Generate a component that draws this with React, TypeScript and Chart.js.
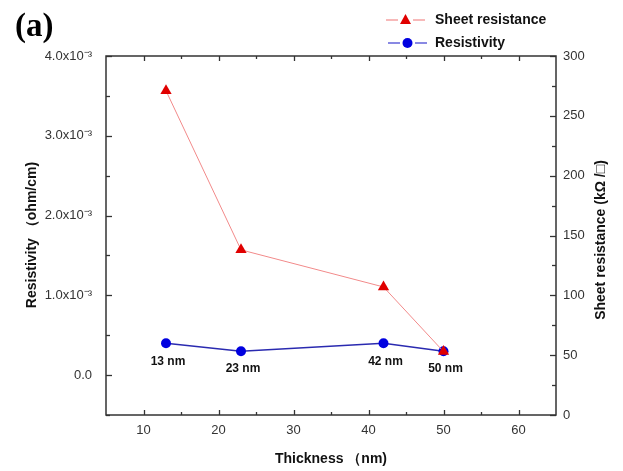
import React, { useEffect, useRef } from "react";
import { Chart, registerables } from "chart.js";

Chart.register(...registerables);

const thickness = [13, 23, 42, 50];
const sheetResistance = [271, 138, 107, 53];
const resistivity = [0.4e-3, 0.3e-3, 0.4e-3, 0.3e-3];
const pointLabels = ["13 nm", "23 nm", "42 nm", "50 nm"];
const xTicks = [10, 20, 30, 40, 50, 60];
const leftTicks = [0, 1e-3, 2e-3, 3e-3, 4e-3];
const rightTicks = [0, 50, 100, 150, 200, 250, 300];

const SANS = "'Liberation Sans', Arial, sans-serif";

const decorPlugin = {
  id: "decor",
  afterDatasetsDraw(chart: any) {
    const { ctx, chartArea: a, scales } = chart;
    const x = scales.x, yl = scales.y, yr = scales.y1;
    ctx.save();
    ctx.strokeStyle = "#333";
    ctx.lineWidth = 1.5;
    ctx.strokeRect(a.left, a.top, a.right - a.left, a.bottom - a.top);
    ctx.lineWidth = 1.3;
    const line = (x1: number, y1: number, x2: number, y2: number) => {
      ctx.beginPath();
      ctx.moveTo(x1, y1);
      ctx.lineTo(x2, y2);
      ctx.stroke();
    };
    for (let v = 10; v <= 60; v += 5) {
      const px = Math.round(x.getPixelForValue(v)) + 0.5;
      const len = v % 10 === 0 ? 5 : 3;
      line(px, a.bottom, px, a.bottom - len);
      line(px, a.top, px, a.top + len);
    }
    for (let v = -0.5e-3; v <= 4e-3 + 1e-9; v += 0.5e-3) {
      const py = Math.round(yl.getPixelForValue(v)) + 0.5;
      const major = Math.abs(Math.round(v * 1000) - v * 1000) < 1e-6;
      line(a.left, py, a.left + (major ? 6 : 4), py);
    }
    for (let v = 0; v <= 300; v += 25) {
      const py = Math.round(yr.getPixelForValue(v)) + 0.5;
      const len = v % 50 === 0 ? 6 : 4;
      line(a.right, py, a.right - len, py);
    }
    const meta = chart.getDatasetMeta(1);
    ctx.fillStyle = "#111";
    ctx.font = `bold 12px ${SANS}`;
    ctx.textAlign = "center";
    ctx.textBaseline = "middle";
    meta.data.forEach((pt: any, i: number) => {
      ctx.fillText(pointLabels[i], pt.x + 2, pt.y + 18);
    });
    ctx.font = `bold 14px ${SANS}`;
    ctx.fillStyle = "#111";
    ctx.fillText("Thickness （nm)", (a.left + a.right) / 2, 459);
    ctx.save();
    ctx.translate(32, 235);
    ctx.rotate(-Math.PI / 2);
    ctx.fillText("Resistivity （ohm/cm)", 0, 0);
    ctx.restore();
    ctx.save();
    ctx.translate(601, 240);
    ctx.rotate(-Math.PI / 2);
    ctx.fillText("Sheet resistance (kΩ /□)", 0, 0);
    ctx.restore();
    ctx.font = `bold 33px 'Liberation Serif', 'Times New Roman', serif`;
    ctx.textAlign = "left";
    ctx.textBaseline = "alphabetic";
    ctx.fillStyle = "#000";
    ctx.fillText("(a)", 15, 36);
    const ds = chart.data.datasets;
    const items = [
      { y: 20, color: "#f28a8a", fill: "#e00000", style: "triangle", label: ds[0].label, sx: 386 },
      { y: 43, color: "#3a3ad0", fill: "#0000e0", style: "circle", label: ds[1].label, sx: 388 },
    ];
    items.forEach((it) => {
      ctx.strokeStyle = it.color;
      ctx.lineWidth = 1.2;
      line(it.sx, it.y, it.sx + 12, it.y);
      line(it.sx + 27, it.y, it.sx + 39, it.y);
      ctx.fillStyle = it.fill;
      const cx = it.sx + 19.5;
      ctx.beginPath();
      if (it.style === "triangle") {
        ctx.moveTo(cx, it.y - 6);
        ctx.lineTo(cx + 5.5, it.y + 4);
        ctx.lineTo(cx - 5.5, it.y + 4);
        ctx.closePath();
      } else {
        ctx.arc(cx, it.y, 5, 0, Math.PI * 2);
      }
      ctx.fill();
      ctx.fillStyle = "#111";
      ctx.font = `bold 14px ${SANS}`;
      ctx.textAlign = "left";
      ctx.textBaseline = "middle";
      ctx.fillText(it.label, 435, it.y);
    });
    ctx.restore();
  },
};

function fmtLeft(v: number) {
  if (Math.abs(v) < 1e-12) return "0.0";
  return `${(v * 1000).toFixed(1)}x10⁻³`;
}

export default function App() {
  const ref = useRef<HTMLCanvasElement | null>(null);
  useEffect(() => {
    if (!ref.current) return;
    const tickFont = { family: SANS, size: 13 };
    const chart = new Chart(ref.current, {
      type: "line",
      data: {
        datasets: [
          {
            label: "Sheet resistance",
            data: thickness.map((t, i) => ({ x: t, y: sheetResistance[i] })),
            yAxisID: "y1",
            borderColor: "#f28a8a",
            borderWidth: 1,
            pointStyle: "triangle",
            pointRadius: 6.5,
            pointBackgroundColor: "#e00000",
            pointBorderColor: "#e00000",
            pointBorderWidth: 0,
            tension: 0,
          },
          {
            label: "Resistivity",
            data: thickness.map((t, i) => ({ x: t, y: resistivity[i] })),
            yAxisID: "y",
            borderColor: "#2a2ab0",
            borderWidth: 1.6,
            pointStyle: "circle",
            pointRadius: 5,
            pointBackgroundColor: "#0000e0",
            pointBorderColor: "#0000e0",
            pointBorderWidth: 0,
            tension: 0,
          },
        ],
      },
      options: {
        animation: false,
        responsive: false,
        layout: { padding: { top: 56, left: 0, right: 0, bottom: 0 } },
        plugins: { legend: { display: false }, tooltip: { enabled: false } },
        scales: {
          x: {
            type: "linear",
            min: 5,
            max: 65,
            grid: { display: false, drawTicks: false },
            border: { display: false },
            afterBuildTicks: (s: any) => {
              s.ticks = xTicks.map((v) => ({ value: v }));
            },
            afterFit: (s: any) => {
              s.height = 56;
            },
            ticks: { color: "#333", font: tickFont, padding: 8, maxRotation: 0 },
          },
          y: {
            type: "linear",
            position: "left",
            min: -0.5e-3,
            max: 4e-3,
            grid: { display: false, drawTicks: false },
            border: { display: false },
            afterBuildTicks: (s: any) => {
              s.ticks = leftTicks.map((v) => ({ value: v }));
            },
            afterFit: (s: any) => {
              s.width = 106;
            },
            ticks: { color: "#333", font: tickFont, padding: 14, callback: (v: any) => fmtLeft(Number(v)) },
          },
          y1: {
            type: "linear",
            position: "right",
            min: 0,
            max: 300,
            grid: { display: false, drawTicks: false },
            border: { display: false },
            afterBuildTicks: (s: any) => {
              s.ticks = rightTicks.map((v) => ({ value: v }));
            },
            afterFit: (s: any) => {
              s.width = 67;
            },
            ticks: { color: "#333", font: tickFont, padding: 7 },
          },
        },
      },
      plugins: [decorPlugin],
    } as any);
    return () => chart.destroy();
  }, []);
  return (
    <div style={{ position: "fixed", left: 0, top: 0, width: 623, height: 471, background: "#fff" }}>
      <canvas ref={ref} width={623} height={471} style={{ display: "block" }} />
    </div>
  );
}
